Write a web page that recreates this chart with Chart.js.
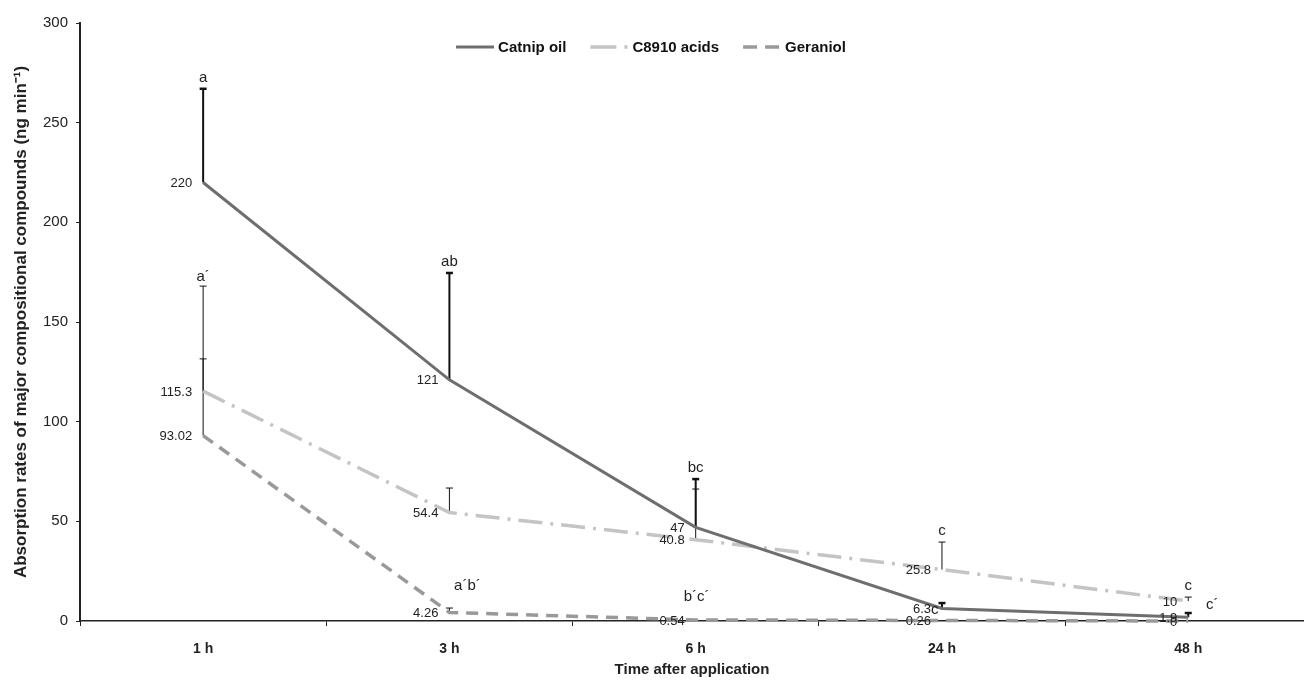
<!DOCTYPE html>
<html><head><meta charset="utf-8">
<script src="https://cdn.jsdelivr.net/npm/chart.js@4.4.0/dist/chart.umd.min.js"></script>
<style>html,body{margin:0;padding:0;background:#fff;overflow:hidden}#wrap{width:1304px;height:682px;position:relative}</style>
</head><body><div id="wrap"><canvas id="c"></canvas></div>
<script>
// ---- data ----
const timeLabels = ['1 h', '3 h', '6 h', '24 h', '48 h'];
const seriesNames = ['Catnip oil', 'C8910 acids', 'Geraniol'];
const catnipValues = [220, 121, 47, 6.3, 1.9];
const c8910Values = [115.3, 54.4, 40.8, 25.8, 10];
const geraniolValues = [93.02, 4.26, 0.54, 0.26, 0];
const catnipUpper = [267, 174.6, 71.2, 9, 4];
const c8910Upper = [131.5, 66.7, 66.2, 39.6, 12];
const geraniolUpper = [168, 6.5, null, null, null];
const catnipLetters = ['a', 'ab', 'bc', 'c', ''];
const c8910Letters = ['', '', '', 'c', 'c'];
const geraniolLetters = ['a´', 'a´b´', 'b´c´', '', 'c´'];
const yTicks = [0, 50, 100, 150, 200, 250, 300];

const FONT = "'Liberation Sans', Arial, Helvetica, sans-serif";
Chart.defaults.font.family = FONT;
Chart.defaults.color = '#222';

const toPts = vals => vals.map((v, i) => ({x: i, y: v}));

// letter placement rules (layout only)
const letterPlacement = {
  '0:3': {afterLabel: true},
  '2:1': {fromPoint: true, dx: 18, dy: -27},
  '2:2': {fromPoint: true, dx: 1, dy: -23},
  '2:4': {fromPoint: true, dx: 24, dy: -16},
  '2:0': {dy: -9}
};

const errorBars = {
  id: 'errorBars',
  beforeDatasetsDraw(chart) {
    const {ctx, scales: {x, y}} = chart;
    ctx.save();
    chart.data.datasets.forEach(ds => {
      ds.upper.forEach((u, j) => {
        if (u == null) return;
        const px = x.getPixelForValue(j);
        const y0 = y.getPixelForValue(ds.data[j].y);
        const y1 = y.getPixelForValue(u);
        ctx.strokeStyle = '#111';
        ctx.lineWidth = ds.barWidth;
        ctx.beginPath(); ctx.moveTo(px, y0); ctx.lineTo(px, y1); ctx.stroke();
        ctx.lineWidth = ds.capWidth;
        ctx.beginPath(); ctx.moveTo(px - 3.5, y1); ctx.lineTo(px + 3.5, y1); ctx.stroke();
      });
    });
    ctx.restore();
  }
};

const labelsPlugin = {
  id: 'labelsPlugin',
  afterDatasetsDraw(chart) {
    const {ctx, scales: {x, y}} = chart;
    ctx.save();
    chart.data.datasets.forEach((ds, i) => {
      ds.data.forEach((pt, j) => {
        const px = x.getPixelForValue(j);
        const py = y.getPixelForValue(pt.y);
        ctx.font = '13px ' + FONT;
        ctx.fillStyle = '#222';
        ctx.textAlign = 'right';
        ctx.textBaseline = 'middle';
        const txt = String(pt.y);
        ctx.fillText(txt, px - 11, py + 1);
        const letter = ds.letters[j];
        if (!letter) return;
        const rule = letterPlacement[i + ':' + j] || {};
        ctx.font = '15px ' + FONT;
        if (rule.afterLabel) {
          ctx.textAlign = 'left';
          ctx.fillText(letter, px - 11, py + 1);
          return;
        }
        ctx.textAlign = 'center';
        let lx = px, ly;
        if (rule.fromPoint || ds.upper[j] == null) {
          lx = px + (rule.dx || 0);
          ly = py + (rule.dy || -14);
        } else {
          ly = y.getPixelForValue(ds.upper[j]) + (rule.dy != null ? rule.dy : -11);
        }
        ctx.fillText(letter, lx, ly);
      });
    });
    ctx.restore();
  }
};

const legendPlugin = {
  id: 'customLegend',
  afterDraw(chart) {
    const {ctx} = chart;
    ctx.save();
    ctx.font = 'bold 15px ' + FONT;
    const sample = 38, gap = 4, between = 24;
    const items = chart.data.datasets.map(ds => ({ds, w: sample + gap + ctx.measureText(ds.label).width}));
    const total = items.reduce((s, it) => s + it.w, 0) + between * (items.length - 1);
    let cx = 651 - total / 2;
    const cy = 47;
    items.forEach(it => {
      ctx.strokeStyle = it.ds.borderColor;
      ctx.lineWidth = it.ds.borderWidth;
      ctx.setLineDash(it.ds.legendDash || it.ds.borderDash);
      ctx.beginPath(); ctx.moveTo(cx, cy); ctx.lineTo(cx + sample, cy); ctx.stroke();
      ctx.setLineDash([]);
      ctx.fillStyle = '#111';
      ctx.textAlign = 'left';
      ctx.textBaseline = 'middle';
      ctx.fillText(it.ds.label, cx + sample + gap, cy + 1);
      cx += it.w + between;
    });
    ctx.restore();
  }
};

const xTickValues = [];
for (let v = -0.5; v <= timeLabels.length - 1 + 1e-9; v += 0.5) xTickValues.push(v);

new Chart(document.getElementById('c'), {
  type: 'line',
  data: {
    datasets: [
      {label: seriesNames[0], data: toPts(catnipValues), borderColor: '#6e6e6e', borderWidth: 3, borderDash: [],
       pointRadius: 0, tension: 0, clip: 10, upper: catnipUpper, letters: catnipLetters, barWidth: 2, capWidth: 2.5},
      {label: seriesNames[1], data: toPts(c8910Values), borderColor: '#c4c4c4', borderWidth: 3.5, borderDash: [24, 8, 3, 8],
       legendDash: [26, 8, 3, 8],
       pointRadius: 0, tension: 0, clip: 10, upper: c8910Upper, letters: c8910Letters, barWidth: 1, capWidth: 1},
      {label: seriesNames[2], data: toPts(geraniolValues), borderColor: '#999999', borderWidth: 3.5, borderDash: [12, 8],
       legendDash: [14, 8],
       pointRadius: 0, tension: 0, clip: 10, upper: geraniolUpper, letters: geraniolLetters, barWidth: 1, capWidth: 1}
    ]
  },
  options: {
    responsive: true, maintainAspectRatio: false, animation: false, devicePixelRatio: 1,
    layout: {padding: {top: 23, right: 0, bottom: 0, left: 0}},
    plugins: {legend: {display: false}, tooltip: {enabled: false}},
    scales: {
      x: {
        type: 'linear', min: -0.5, max: 4.47,
        afterBuildTicks: s => { s.ticks = xTickValues.map(v => ({value: v})); },
        afterFit: s => { s.height = 61; },
        ticks: {
          autoSkip: false, maxRotation: 0, padding: 15, color: '#222',
          font: {size: 14, weight: 'bold'},
          callback: v => Number.isInteger(v) ? timeLabels[v] : ''
        },
        grid: {
          drawOnChartArea: false, drawTicks: true, tickLength: 5, lineWidth: 1,
          tickColor: c => (c.tick && Number.isInteger(c.tick.value)) ? 'rgba(0,0,0,0)' : '#222'
        },
        border: {color: '#222', width: 1.5},
        title: {display: true, text: 'Time after application', color: '#222',
                font: {size: 15, weight: 'bold'}, padding: {top: 0, bottom: 3}}
      },
      y: {
        min: 0, max: 300,
        afterBuildTicks: s => { s.ticks = yTicks.map(v => ({value: v})); },
        afterFit: s => { s.width = 80; },
        ticks: {padding: 8, color: '#222', font: {size: 15}},
        grid: {drawOnChartArea: false, drawTicks: true, tickLength: 4, tickColor: '#222'},
        border: {color: '#222', width: 2},
        title: {display: true, text: 'Absorption rates of major compositional compounds (ng min⁻¹)', color: '#222',
                font: {size: 17, weight: 'bold'}, padding: {top: 11, bottom: 0}}
      }
    }
  },
  plugins: [errorBars, labelsPlugin, legendPlugin]
});
</script>
</body></html>
